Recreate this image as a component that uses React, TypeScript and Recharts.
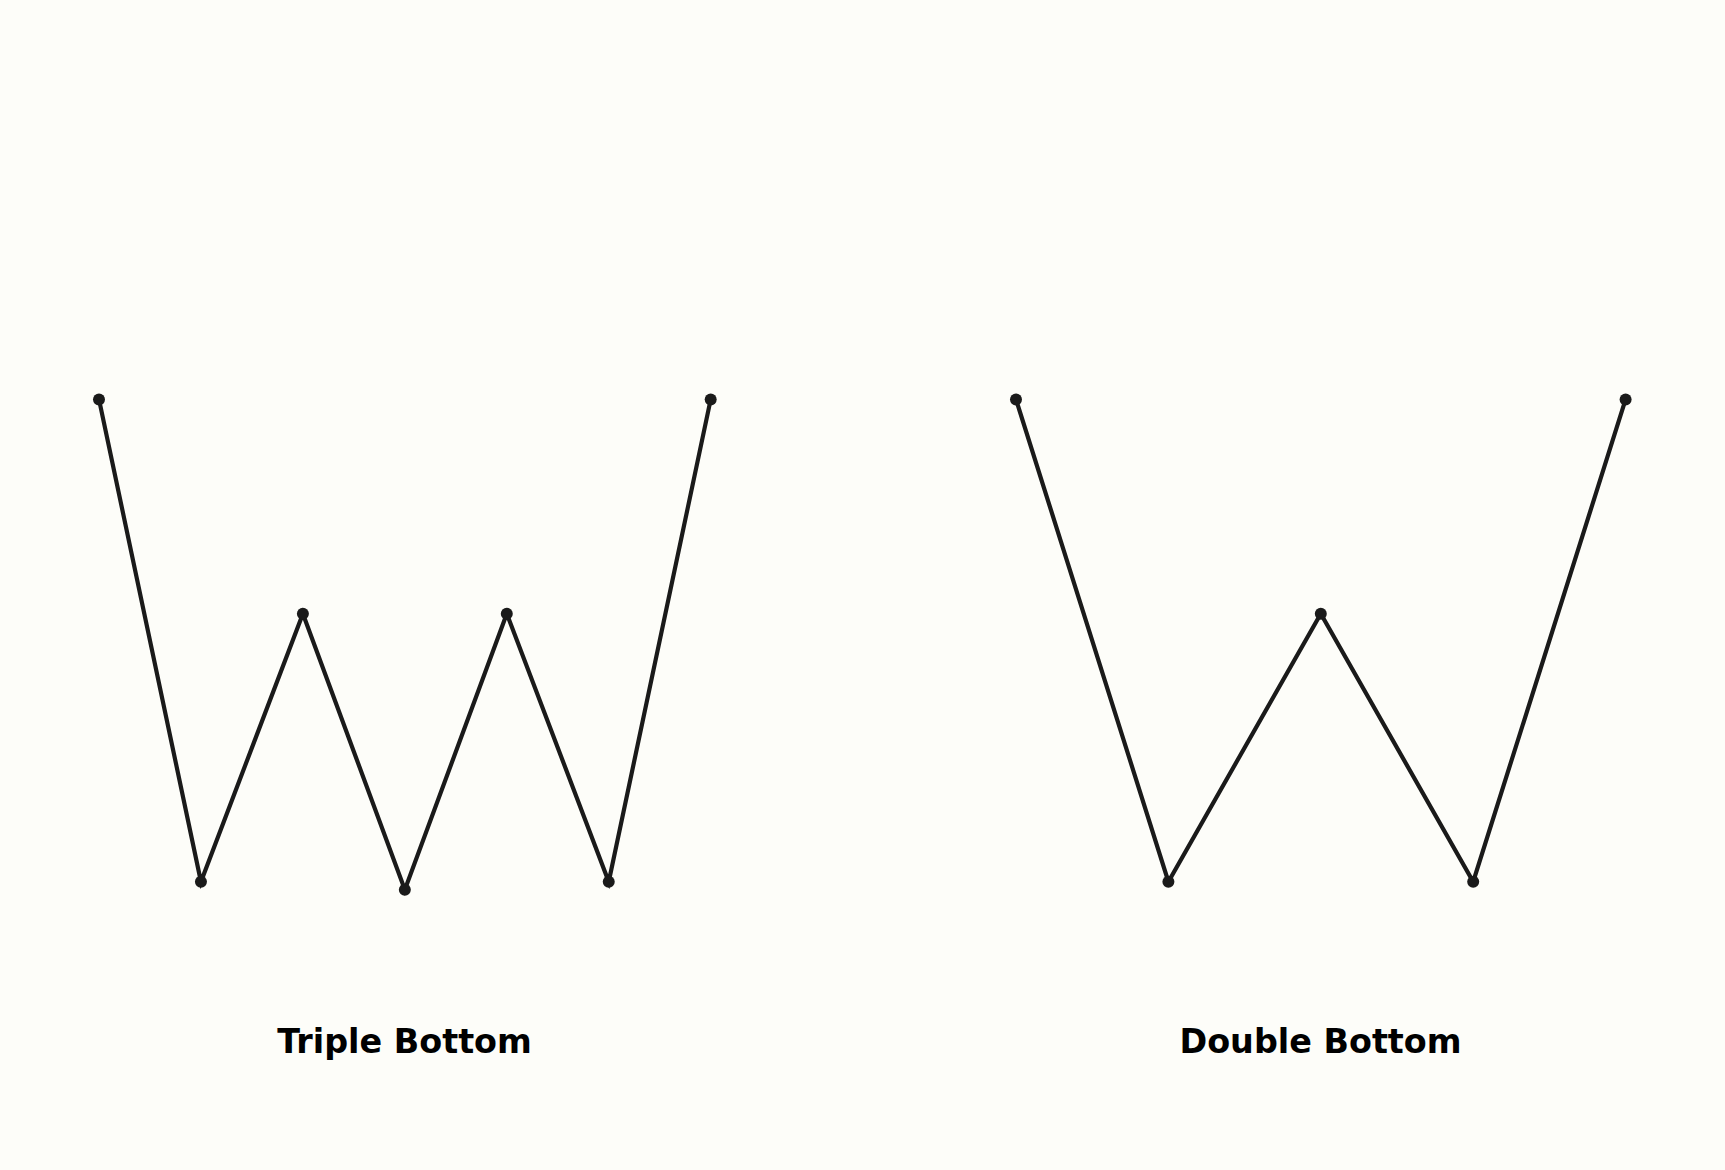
import React from 'react';
import { LineChart, Line, XAxis, YAxis } from 'recharts';

const tripleIdx = [0, 1, 2, 3, 4, 5, 6];
const tripleVals = [100, 10, 60, 8.5, 60, 10, 100];
const doubleIdx = [0, 1, 2, 3, 4];
const doubleVals = [100, 10, 60, 10, 100];
const titles = ['Triple Bottom', 'Double Bottom'];

const tripleData = tripleIdx.map((x, i) => ({ x, y: tripleVals[i] }));
const doubleData = doubleIdx.map((x, i) => ({ x, y: doubleVals[i] }));

const ink = '#1a1a1a';
const pad = 20;

const Pattern = ({ data, maxX, left, width }: { data: any[]; maxX: number; left: number; width: number }) => (
    <div style={{ position: 'absolute', left: left - pad, top: 0 }}>
        <LineChart
            width={width + pad * 2}
            height={1170}
            data={data}
            margin={{ top: 24.3, right: pad, bottom: 234.7, left: pad }}
        >
            <XAxis dataKey="x" type="number" domain={[0, maxX]} hide />
            <YAxis type="number" domain={[0, 170]} hide />
            <Line
                dataKey="y"
                stroke={ink}
                strokeWidth={4.2}
                dot={{ r: 6, fill: ink, stroke: ink, strokeWidth: 0 }}
                isAnimationActive={false}
            />
        </LineChart>
    </div>
);

const Title = ({ text, cx }: { text: string; cx: number }) => (
    <div
        style={{
            position: 'absolute',
            left: cx - 200,
            width: 400,
            top: 1025,
            textAlign: 'center',
            fontFamily: '"DejaVu Sans", sans-serif',
            fontWeight: 'bold',
            fontSize: 33.4,
            lineHeight: '34px',
            color: '#000',
        }}
    >
        {text}
    </div>
);

export default function App() {
    return (
        <div style={{ position: 'absolute', left: 0, top: 0, width: 1725, height: 1170, background: '#fdfdf9', overflow: 'hidden' }}>
            <Pattern data={tripleData} maxX={6} left={98.6} width={611.7} />
            <Pattern data={doubleData} maxX={4} left={1016.2} width={609.6} />
            <Title text={titles[0]} cx={404.5} />
            <Title text={titles[1]} cx={1320.5} />
        </div>
    );
}
